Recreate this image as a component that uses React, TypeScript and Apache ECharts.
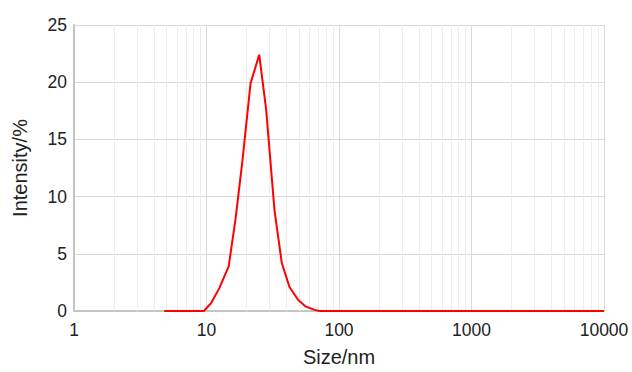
import React, { useEffect, useRef } from "react";
import * as echarts from "echarts";

const sizes = [4.8, 5.5, 6.4, 7.5, 8.6, 9.55, 10.85, 12.5, 14.7, 16.55, 18.7, 21.5, 25.0, 28.2, 32.6, 37.0, 42.3, 48.9, 55.9, 65.4, 71.3, 100, 200, 500, 1000, 2000, 5000, 10000];
const intensity = [0, 0, 0, 0, 0, 0, 0.7, 2.0, 3.9, 8.0, 13.2, 19.9, 22.4, 17.6, 8.8, 4.2, 2.1, 1.0, 0.4, 0.1, 0, 0, 0, 0, 0, 0, 0, 0];
const decades = [1, 10, 100, 1000];
const minorMultipliers = [2, 3, 4, 5, 6, 7, 8, 9];
const yTicks = { min: 0, max: 25, interval: 5 };

const FONT = "'Liberation Sans', Arial, Helvetica, sans-serif";

export default function App() {
  const ref = useRef<HTMLDivElement>(null);
  useEffect(() => {
    if (!ref.current) return;
    const chart = echarts.init(ref.current, null, { renderer: "svg" });
    const minorLines: any[] = [];
    decades.forEach((d) => minorMultipliers.forEach((m) => minorLines.push({ xAxis: d * m })));
    chart.setOption({
      animation: false,
      backgroundColor: "#ffffff",
      grid: { left: 74, right: 28, top: 25, bottom: 57 },
      xAxis: {
        type: "log",
        logBase: 10,
        min: 1,
        max: 10000,
        name: "Size/nm",
        nameLocation: "middle",
        nameGap: 36,
        nameTextStyle: { fontSize: 20, color: "#222", fontFamily: FONT },
        axisLine: { show: true, lineStyle: { color: "#c4c4c4", width: 2 } },
        axisTick: { show: false },
        axisLabel: {
          fontSize: 17.5,
          color: "#222",
          fontFamily: FONT,
          margin: 10,
          formatter: (v: number) => String(Math.round(v)),
        },
        splitLine: { show: true, lineStyle: { color: "#d9d9d9", width: 1 } },
      },
      yAxis: {
        type: "value",
        min: yTicks.min,
        max: yTicks.max,
        interval: yTicks.interval,
        name: "Intensity/%",
        nameLocation: "middle",
        nameGap: 44,
        nameTextStyle: { fontSize: 20, color: "#222", fontFamily: FONT },
        axisLine: { show: true, lineStyle: { color: "#c4c4c4", width: 2 } },
        axisTick: { show: false },
        axisLabel: { fontSize: 17.5, color: "#222", fontFamily: FONT, margin: 7 },
        splitLine: { show: true, lineStyle: { color: "#d9d9d9", width: 1 } },
      },
      series: [
        {
          type: "line",
          data: sizes.map((s, i) => [s, intensity[i]]),
          showSymbol: false,
          symbol: "none",
          z: 3,
          lineStyle: { color: "#ff0000", width: 2 },
          markLine: {
            silent: true,
            symbol: "none",
            z: 1,
            label: { show: false },
            lineStyle: { color: "#ededed", width: 1, type: "solid" },
            emphasis: { disabled: true },
            data: minorLines,
          },
        },
      ],
    });
    return () => chart.dispose();
  }, []);
  return (
    <div
      ref={ref}
      style={{ position: "fixed", left: 0, top: 0, width: 632, height: 372 }}
    />
  );
}
